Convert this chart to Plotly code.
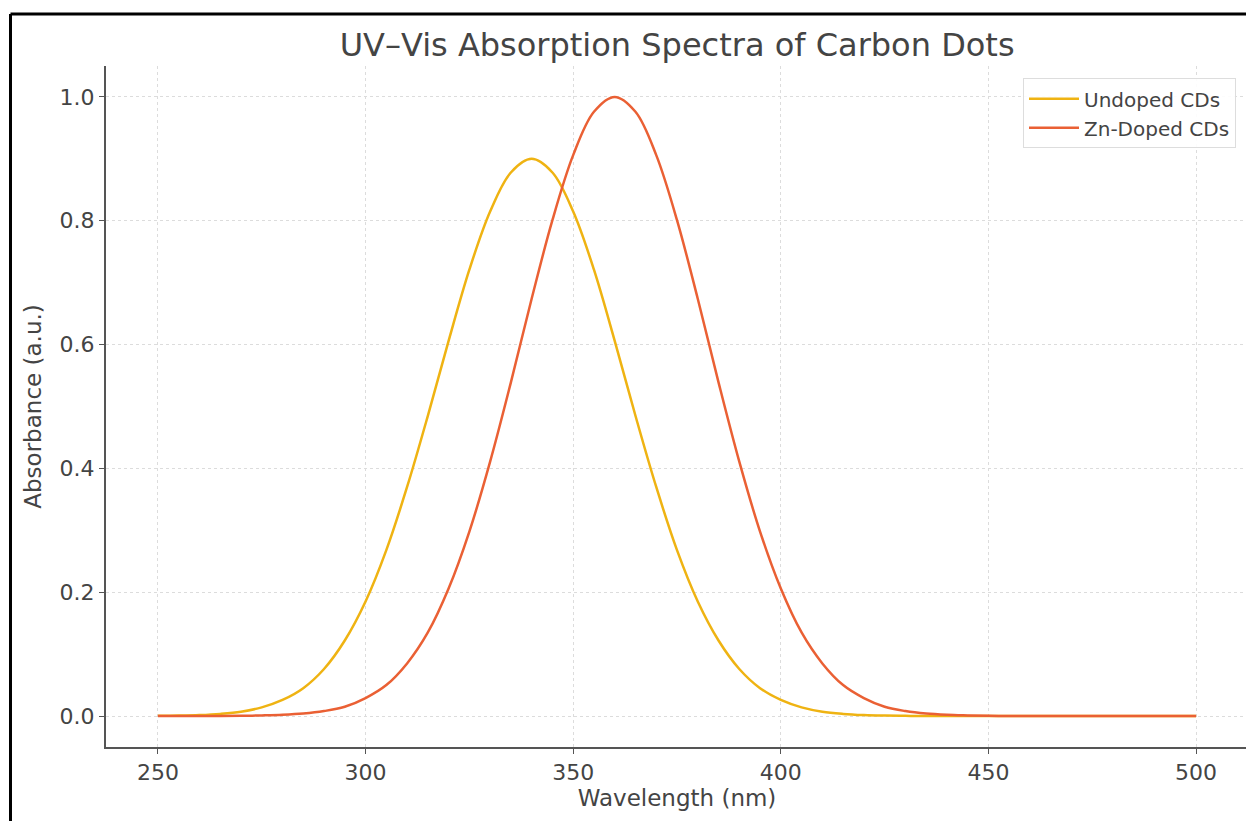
import plotly.graph_objects as go

wavelength = [250, 255, 260, 265, 270, 275, 280, 285, 290, 295,
              300, 305, 310, 315, 320, 325, 330, 335, 340, 345,
              350, 355, 360, 365, 370, 375, 380, 385, 390, 395,
              400, 405, 410, 415, 420, 425, 430, 435, 440, 445,
              450, 455, 460, 465, 470, 475, 480, 485, 490, 495, 500]

undoped = [0.0003, 0.0007, 0.0016, 0.0035, 0.007, 0.014, 0.026, 0.045, 0.076, 0.122,
           0.185, 0.268, 0.370, 0.485, 0.606, 0.721, 0.815, 0.878, 0.900, 0.878,
           0.815, 0.721, 0.606, 0.485, 0.370, 0.268, 0.185, 0.122, 0.076, 0.045,
           0.026, 0.014, 0.007, 0.0035, 0.0016, 0.0007, 0.0003, 0.0, 0.0, 0.0,
           0.0, 0.0, 0.0, 0.0, 0.0, 0.0, 0.0, 0.0, 0.0, 0.0, 0.0]

zn_doped = [0.0, 0.0, 0.0, 0.0, 0.0003, 0.001, 0.002, 0.004, 0.008, 0.015,
            0.029, 0.050, 0.085, 0.135, 0.206, 0.298, 0.411, 0.539, 0.674, 0.801,
            0.906, 0.976, 1.000, 0.976, 0.906, 0.801, 0.674, 0.539, 0.411, 0.298,
            0.206, 0.135, 0.085, 0.050, 0.029, 0.015, 0.008, 0.004, 0.002, 0.001,
            0.0003, 0.0, 0.0, 0.0, 0.0, 0.0, 0.0, 0.0, 0.0, 0.0, 0.0]

x_ticks = [250, 300, 350, 400, 450, 500]
y_ticks = [0.0, 0.2, 0.4, 0.6, 0.8, 1.0]

FONT = "DejaVu Sans"
TXT = "#444444"

W, H = 1246, 813
ML, MR, MT, MB = 98, 6, 58, 74

fig = go.Figure()
fig.add_trace(go.Scatter(x=wavelength, y=undoped, mode="lines", name="Undoped CDs",
                         line=dict(color="#EFB312", width=2.5, shape="spline", smoothing=1.0)))
fig.add_trace(go.Scatter(x=wavelength, y=zn_doped, mode="lines", name="Zn-Doped CDs",
                         line=dict(color="#EA6034", width=2.5, shape="spline", smoothing=1.0)))

fig.update_layout(
    width=W, height=H,
    paper_bgcolor="white", plot_bgcolor="white",
    margin=dict(l=ML, r=MR, t=MT, b=MB, autoexpand=False),
    font=dict(family=FONT, color=TXT),
    title=dict(text="UV–Vis Absorption Spectra of Carbon Dots", x=0.537, xanchor="center",
               y=0.9545, yanchor="middle", font=dict(size=32, color=TXT, family=FONT)),
    showlegend=True,
    legend=dict(x=0.9895, y=0.982, xanchor="right", yanchor="top", itemwidth=50,
                bgcolor="rgba(255,255,255,0.9)", bordercolor="#dddddd", borderwidth=1,
                font=dict(size=20, color=TXT, family=FONT)),
)

fig.update_xaxes(range=[237.5, 512.5], tickvals=x_ticks, ticktext=[str(v) for v in x_ticks],
                 showline=True, linecolor="#555555", linewidth=2, mirror=False,
                 ticks="outside", ticklen=5, tickcolor="#555555", tickwidth=1,
                 showgrid=True, gridcolor="#dcdcdc", griddash="dot", gridwidth=1,
                 zeroline=False, tickfont=dict(size=22, color=TXT),
                 title=dict(text="Wavelength (nm)", font=dict(size=23, color=TXT), standoff=4))
fig.update_yaxes(range=[-0.05, 1.05], tickvals=y_ticks, ticktext=[f"{v:.1f}" for v in y_ticks],
                 showline=True, linecolor="#555555", linewidth=2, mirror=False,
                 ticks="outside", ticklen=5, tickcolor="#555555", tickwidth=1,
                 showgrid=True, gridcolor="#dcdcdc", griddash="dot", gridwidth=1,
                 zeroline=False, tickfont=dict(size=22, color=TXT),
                 title=dict(text="Absorbance (a.u.)", font=dict(size=23, color=TXT), standoff=12))

# black frame on left and top edges of the image
pw, ph = W - ML - MR, H - MT - MB
xl = (2.5 - ML) / pw
yt = (H - MB - 6) / ph
fig.add_shape(type="line", xref="paper", yref="paper", x0=xl, x1=xl, y0=-0.2, y1=yt,
              line=dict(color="black", width=3))
fig.add_shape(type="line", xref="paper", yref="paper", x0=xl, x1=1.1, y0=yt, y1=yt,
              line=dict(color="black", width=3))

fig.write_html("out.html")
